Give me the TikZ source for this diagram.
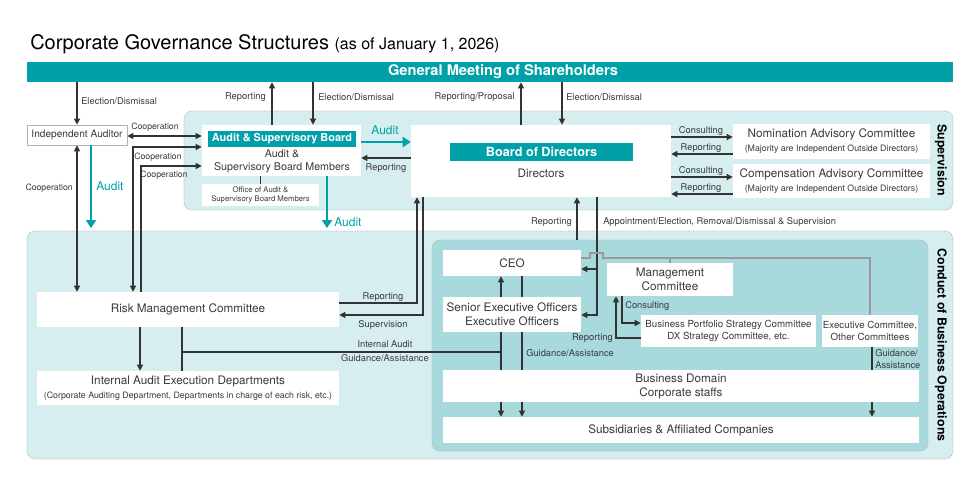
\documentclass[tikz,border=0pt]{standalone}
\usepackage{fontspec}
\setmainfont{TeX Gyre Heros}
\usepackage{xcolor}
\usepackage{tikz}
\usetikzlibrary{arrows.meta}

\definecolor{teal1}{HTML}{00A0A8}
\definecolor{paleteal}{HTML}{D6EEF0}
\definecolor{midteal}{HTML}{A8D9DD}
\definecolor{txt}{HTML}{3A3A3A}
\definecolor{lnc}{HTML}{333333}

\tikzset{
  sz/.style 2 args={minimum width=#1*0.75pt, minimum height=#2*0.75pt},
  region/.style={draw=gray!55, dash pattern=on 1pt off 1pt, line width=0.6pt, rounded corners=6pt, inner sep=0pt},
  box/.style={fill=white, inner sep=0pt, align=center, text=txt, font=\fontsize{8.8}{10.5}\selectfont},
  tealbox/.style={fill=teal1, inner sep=0pt, text=white},
  lbl/.style={font=\fontsize{7}{8.4}\selectfont, text=txt, inner sep=0pt},
  lbls/.style={font=\fontsize{6.5}{8}\selectfont, text=txt, inner sep=0pt},
  audl/.style={font=\fontsize{9}{10}\selectfont, text=teal1, inner sep=0pt},
  plain/.style={draw=lnc, line width=0.85pt},
  grayln/.style={draw=gray!80, line width=0.8pt},
  arr/.style={plain, -{Triangle[length=4.5pt,width=4.5pt]}},
  darr/.style={plain, {Triangle[length=4.5pt,width=4.5pt]}-{Triangle[length=4.5pt,width=4.5pt]}},
  auditarr/.style={draw=teal1, line width=2.2pt, -{Triangle[length=6pt,width=7.5pt]}},
}

\begin{document}
\begin{tikzpicture}[x=0.75pt, y=-0.75pt]
    \useasboundingbox (0,0) rectangle (975,489);

    % regions
    \node[region, fill=paleteal, sz={769}{99}] (supreg) at (568.5,160.5) {};
    \node[region, fill=paleteal, sz={926}{228}] (cboreg) at (490,345) {};
    \node[region, fill=midteal, sz={496}{211}] (inreg) at (680,345.5) {};

    \node[anchor=base west, inner sep=0pt, font=\fontsize{15}{18}\selectfont] (title) at (30,49)
        {Corporate Governance Structures {\fontsize{12}{14}\selectfont (as of January 1, 2026)}};

    \node[tealbox, sz={926}{20}] (gms) at (490,72) {};
    \node[text=white, inner sep=0pt, font=\bfseries\fontsize{11}{13}\selectfont] (gmt) at (503,72) {General Meeting of Shareholders};

    % supervision side
    \node[box, draw=gray!60, line width=0.5pt, sz={100}{20}, font=\fontsize{7.6}{9}\selectfont] (ia) at (77,135) {Independent Auditor};
    \node[box, sz={159}{51}] (asb) at (281.5,150.5) {};
    \node[tealbox, sz={148}{16}, font=\bfseries\fontsize{8.2}{10}\selectfont] (asbh) at (282,139) {Audit \& Supervisory Board};
    \node[align=center, text=txt, inner sep=0pt, font=\fontsize{8}{9.75}\selectfont] (asbm) at (282,161) {Audit \&\\Supervisory Board Members};
    \node[box, sz={117}{22}, font=\fontsize{5.8}{7}\selectfont] (office) at (260.5,195) {Office of Audit \&\\Supervisory Board Members};
    \draw[plain, line width=0.6pt] (asb.south -| office.north) -- (office.north);

    \node[box, sz={260}{72}] (bod) at (541,161) {};
    \node[tealbox, sz={183}{18}, font=\bfseries\fontsize{9.5}{11}\selectfont] (bodh) at (541.5,152) {Board of Directors};
    \node[text=txt, inner sep=0pt, font=\fontsize{8.8}{10.5}\selectfont] (dirs) at (541,173) {Directors};

    \node[box, sz={197}{35}] (nom) at (831.5,141.5) {Nomination Advisory Committee\\{\fontsize{6.6}{8}\selectfont (Majority are Independent Outside Directors)}};
    \node[box, sz={197}{34}] (com) at (831.5,181) {Compensation Advisory Committee\\{\fontsize{6.6}{8}\selectfont (Majority are Independent Outside Directors)}};

    % business operations side
    \node[box, sz={302}{35}] (rmc) at (188,309.5) {Risk Management Committee};
    \node[box, sz={302}{34}] (iaed) at (188,388) {Internal Audit Execution Departments\\{\fontsize{6.6}{8}\selectfont (Corporate Auditing Department, Departments in charge of each risk, etc.)}};

    \node[box, sz={138}{26}] (ceo) at (512,263) {CEO};
    \node[box, sz={138}{35}] (seo) at (512,314.5) {Senior Executive Officers\\Executive Officers};
    \node[box, sz={126}{33}] (mc) at (670,279.5) {Management\\Committee};
    \node[box, sz={175}{32}, font=\fontsize{7.3}{9.5}\selectfont] (bpsc) at (728.5,331) {Business Portfolio Strategy Committee\\DX Strategy Committee, etc.};
    \node[box, sz={96}{32}, font=\fontsize{7.3}{9.5}\selectfont] (exc) at (870,331) {Executive Committee,\\Other Committees};
    \node[box, sz={476}{32}] (bd) at (681,386) {Business Domain\\Corporate staffs};
    \node[box, sz={476}{26}] (subs) at (681,430) {Subsidiaries \& Affiliated Companies};

    \node[rotate=-90, inner sep=0pt, font=\bfseries\fontsize{9.3}{11}\selectfont] (supl) at (941,160) {Supervision};
    \node[rotate=-90, inner sep=0pt, font=\bfseries\fontsize{9.3}{11}\selectfont] (cbol) at (941,345) {Conduct of Business Operations};

    % shareholders
    \draw[arr] (gms.south -| ia.north) -- (ia.north);
    \node[lbl, anchor=west] (le1) at (81,101) {Election/Dismissal};
    \draw[arr] (asb.north -| 272,0) -- (gms.south -| 272,0);
    \node[lbl, anchor=east] (lr1) at (266,97) {Reporting};
    \draw[arr] (gms.south -| 313,0) -- (asb.north -| 313,0);
    \node[lbl, anchor=west] (le2) at (318,97) {Election/Dismissal};
    \draw[arr] (bod.north -| 521,0) -- (gms.south -| 521,0);
    \node[lbl, anchor=east] (lr2) at (515,97) {Reporting/Proposal};
    \draw[arr] (gms.south -| 562,0) -- (bod.north -| 562,0);
    \node[lbl, anchor=west] (le3) at (566,97) {Election/Dismissal};

    % auditor and audit board
    \draw[darr] (ia.east |- 0,136) -- (asb.west |- 0,136);
    \node[lbls] (lc1) at (155,127) {Cooperation};
    \draw[darr] (asb.west |- 0,147) -| (rmc.north -| 133,0);
    \node[lbls] (lc2) at (158,157) {Cooperation};
    \draw[arr] (rmc.north -| 141,0) |- (asb.west |- 0,166);
    \node[lbls] (lc3) at (164,175) {Cooperation};
    \draw[darr] (ia.south) -- (rmc.north -| ia.south);
    \node[lbls, anchor=east] (lc4) at (73,188) {Cooperation};

    \coordinate (aud1) at (91,228);
    \coordinate (aud2) at (327,228);
    \draw[auditarr] (ia.south -| aud1) -- (aud1);
    \node[audl, anchor=west] (la1) at (96,186) {Audit};
    \draw[auditarr] (asb.south -| aud2) -- (aud2);
    \node[audl, anchor=west] (la2) at (334,222) {Audit};
    \draw[auditarr] (asb.east |- 0,142) -- (bod.west |- 0,142);
    \node[audl] (la3) at (385,130) {Audit};
    \draw[arr] (bod.west |- 0,158) -- (asb.east |- 0,158);
    \node[lbl] (lr3) at (386,168) {Reporting};

    % advisory committees
    \draw[arr] (bod.east |- 0,137) -- (nom.west |- 0,137);
    \node[lbl] (lcs1) at (701,131) {Consulting};
    \draw[arr] (nom.west |- 0,154) -- (bod.east |- 0,154);
    \node[lbl] (lrp1) at (701,148) {Reporting};
    \draw[arr] (bod.east |- 0,177) -- (com.west |- 0,177);
    \node[lbl] (lcs2) at (701,171) {Consulting};
    \draw[arr] (com.west |- 0,194) -- (bod.east |- 0,194);
    \node[lbl] (lrp2) at (701,188) {Reporting};

    % risk management
    \draw[arr] (rmc.east |- 0,303) -| (bod.south -| 417,0);
    \node[lbl] (lr4) at (383,297) {Reporting};
    \draw[arr] (bod.south -| 423,0) |- (rmc.east |- 0,315);
    \node[lbl] (ls1) at (383,325) {Supervision};
    \draw[arr] (rmc.south -| 140,0) -- (iaed.north -| 140,0);
    \draw[plain] (rmc.south -| 182,0) -- (iaed.north -| 182,0);
    \coordinate (ia1) at (182,352);
    \draw[plain] (ia1) -- (ia1 -| 501,0);
    \node[lbl] (lia) at (385,344) {Internal Audit};
    \node[lbl] (lga1) at (385,358) {Guidance/Assistance};

    % board and execution
    \draw[arr] (inreg.north -| 577,0) -- (bod.south -| 577,0);
    \node[lbl, anchor=east] (lr5) at (572,222) {Reporting};
    \draw[arr] (bod.south -| 597,0) |- (ceo.east |- 0,269);
    \draw[arr] (bod.south -| 597,0) |- (seo.east |- 0,315);
    \node[lbl, anchor=west] (lapp) at (603,222) {Appointment/Election, Removal/Dismissal \& Supervision};

    \draw[arr] (seo.north -| 501,0) -- (ceo.south -| 501,0);
    \draw[plain] (ceo.south -| 522,0) -- (seo.north -| 522,0);
    \draw[plain] (seo.south -| 501,0) -- (bd.north -| 501,0);
    \draw[plain] (seo.south -| 522,0) -- (bd.north -| 522,0);
    \draw[arr] (bd.south -| 501,0) -- (subs.north -| 501,0);
    \draw[arr] (bd.south -| 522,0) -- (subs.north -| 522,0);
    \node[lbl, anchor=west] (lga2) at (526,353) {Guidance/Assistance};

    % committees
    \draw[grayln] (ceo.east |- 0,258) -- (590,258) -- (590,253) -- (603,253) -- (603,258) -| (exc.north);
    \draw[grayln] (mc.north |- 0,258) -- (mc.north);
    \draw[arr] (mc.south -| 622,0) |- (bpsc.west |- 0,323);
    \node[lbl, anchor=west] (lcs3) at (625,306) {Consulting};
    \draw[arr] (bpsc.west |- 0,338) -| (mc.south -| 616,0);
    \node[lbl, anchor=east] (lrp3) at (613,338) {Reporting};
    \draw[plain] (exc.south -| 872,0) -- (bd.north -| 872,0);
    \draw[arr] (bd.south -| 872,0) -- (subs.north -| 872,0);
    \node[lbl, anchor=west, align=left] (lga3) at (875,359) {Guidance/\\Assistance};

\end{tikzpicture}
\end{document}
